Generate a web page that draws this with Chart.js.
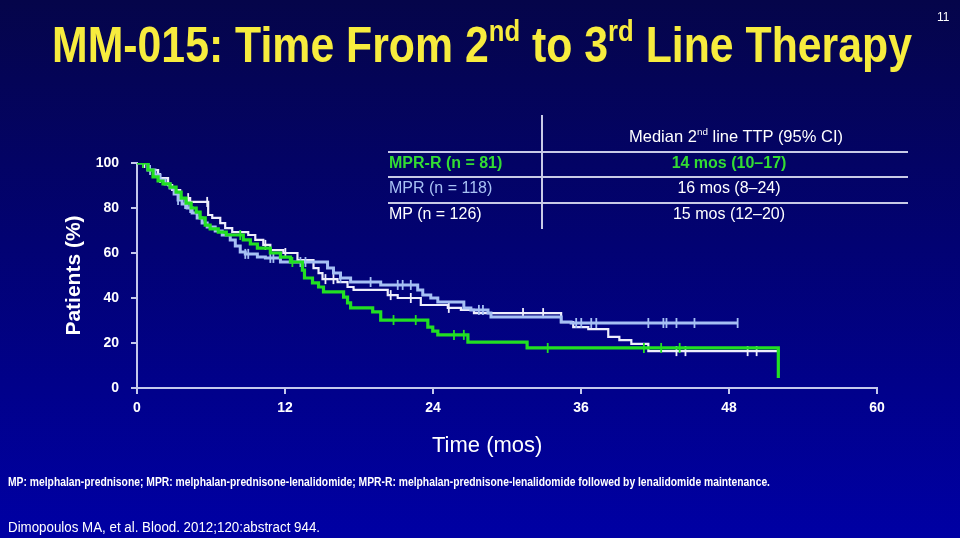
<!DOCTYPE html>
<html>
<head>
<meta charset="utf-8">
<script src="https://cdn.jsdelivr.net/npm/chart.js@4.4.1/dist/chart.umd.min.js"></script>
<style>
  html, body { margin: 0; padding: 0; }
  body {
    width: 960px; height: 538px; overflow: hidden; position: relative;
    background: linear-gradient(180deg, #05054a 0%, #020272 45%, #0000a4 100%);
    font-family: "Liberation Sans", Arial, sans-serif; color: #fff;
  }
  #chart { position: absolute; left: 0; top: 0; }
  .txt { position: absolute; white-space: nowrap; transform-origin: 0 50%; }
  .col { position: absolute; left: 629px; width: 200px; text-align: center; white-space: nowrap; }
  .line { position: absolute; background: #c8cae6; }
  sup { font-size: 0.6em; vertical-align: 0; position: relative; top: -0.7em; }
</style>
</head>
<body>
<canvas id="chart" width="960" height="538"></canvas>

<div class="txt fit" data-w="860" style="left:52px; top:17px; font-size:50px; font-weight:bold; color:#f7ec3e; line-height:56px;">MM-015: Time From 2<sup>nd</sup> to 3<sup>rd</sup> Line Therapy</div>
<div class="txt" style="left:937px; top:10px; font-size:12px; line-height:14px;">11</div>

<!-- median table -->
<div class="line" style="left:541px; top:115px; width:2px; height:114px;"></div>
<div class="line" style="left:388px; top:151px; width:520px; height:2px;"></div>
<div class="line" style="left:388px; top:176px; width:520px; height:2px;"></div>
<div class="line" style="left:388px; top:202px; width:520px; height:2px;"></div>
<div class="col" style="top:127px; font-size:16.5px; line-height:19px;">Median 2<sup>nd</sup> line TTP (95% CI)</div>
<div class="txt" style="left:389px; top:153px; font-size:16px; font-weight:bold; line-height:19px; color:#33dd33;">MPR-R (n = 81)</div>
<div class="txt" style="left:389px; top:178px; font-size:16px; line-height:19px; color:#a8c2f4;">MPR (n = 118)</div>
<div class="txt" style="left:389px; top:204px; font-size:16px; line-height:19px;">MP (n = 126)</div>
<div class="col" style="top:153px; font-size:16px; font-weight:bold; line-height:19px; color:#33dd33;">14 mos (10–17)</div>
<div class="col" style="top:178px; font-size:16px; line-height:19px;">16 mos (8–24)</div>
<div class="col" style="top:204px; font-size:16px; line-height:19px;">15 mos (12–20)</div>

<div class="txt" style="left:432px; top:432px; font-size:22px; line-height:26px;">Time (mos)</div>
<div class="txt fit" data-w="762" style="left:8px; top:475px; font-size:12.5px; font-weight:bold; line-height:14px;">MP: melphalan-prednisone; MPR: melphalan-prednisone-lenalidomide; MPR-R: melphalan-prednisone-lenalidomide followed by lenalidomide maintenance.</div>
<div class="txt fit" data-w="312" style="left:8px; top:518px; font-size:15.5px; line-height:17px;">Dimopoulos MA, et al. Blood. 2012;120:abstract 944.</div>

<script>
// KM step data: time of each drop (months) and % after the drop
const mprrTimes  = [0, 0.89, 1.30, 1.71, 2.11, 2.68, 3.17, 3.58, 3.98, 4.39, 4.80, 5.12, 5.53, 5.93, 6.59, 7.24, 8.62, 9.19, 9.76, 10.81, 11.63, 12.44, 13.41, 13.58, 14.23, 14.72, 15.12, 16.75, 17.07, 17.32, 19.11, 19.76, 23.58, 23.98, 24.39, 26.83, 31.63, 52.0, 52.0];
const mprrValues = [100, 96.9, 93.8, 92.0, 90.7, 89.3, 87.1, 84.4, 82.2, 80.0, 78.2, 75.6, 72.4, 70.7, 69.3, 68.0, 65.8, 64.0, 62.2, 60.0, 58.2, 56.0, 52.4, 48.9, 46.7, 44.9, 42.7, 40.4, 37.8, 35.6, 33.8, 30.2, 27.1, 25.3, 23.6, 20.4, 17.8, 17.8, 4.4];
const mprrCensor = [0.49, 8.37, 12.6, 20.8, 22.6, 25.7, 26.5, 33.3, 41.1, 42.5, 44.0];

const mprTimes  = [0, 0.89, 1.46, 1.87, 2.28, 2.68, 3.01, 3.33, 3.66, 4.07, 4.47, 4.88, 5.28, 5.69, 6.34, 6.91, 7.56, 7.97, 8.37, 8.78, 9.76, 10.41, 11.63, 15.45, 15.93, 16.50, 17.32, 19.76, 22.76, 23.17, 23.82, 24.39, 26.50, 27.07, 28.46, 28.70, 34.39, 35.20, 48.70];
const mprValues = [100, 96.9, 94.7, 92.4, 90.7, 88.9, 86.2, 83.6, 81.8, 80.0, 77.8, 75.6, 73.3, 71.6, 69.8, 68.0, 65.8, 63.1, 60.4, 59.6, 58.2, 57.8, 56.0, 53.3, 51.1, 48.9, 47.1, 45.8, 43.6, 41.3, 40.0, 38.2, 35.6, 34.7, 33.3, 31.6, 29.3, 28.9, 28.9];
const mprCensor = [0.49, 1.06, 3.33, 3.90, 4.31, 8.78, 9.02, 10.81, 11.06, 13.25, 13.66, 16.50, 18.94, 21.14, 21.54, 22.20, 27.72, 28.05, 35.61, 36.02, 36.83, 37.24, 41.46, 42.68, 42.93, 43.74, 45.20, 48.70];

const mpTimes  = [0, 0.89, 1.71, 2.52, 2.85, 3.50, 4.31, 5.77, 6.10, 6.75, 7.15, 7.72, 9.02, 9.59, 10.24, 10.81, 11.87, 13.01, 14.31, 14.72, 15.04, 16.26, 17.07, 17.56, 20.33, 21.14, 23.01, 25.20, 26.26, 27.32, 34.39, 35.37, 36.59, 38.21, 39.11, 40.08, 41.46, 52.1];
const mpValues = [100, 96.9, 93.3, 90.2, 88.0, 84.4, 82.7, 76.9, 75.6, 73.3, 71.1, 69.3, 68.0, 65.8, 63.6, 61.3, 60.0, 56.9, 53.3, 51.1, 48.4, 47.1, 44.9, 43.6, 41.3, 40.0, 36.9, 35.6, 34.7, 33.3, 29.3, 27.1, 26.2, 22.7, 21.3, 19.6, 16.4, 16.4];
const mpCensor = [0.6, 1.87, 4.15, 5.69, 10.41, 12.03, 15.28, 15.93, 20.57, 22.20, 25.28, 31.30, 32.93, 43.74, 44.47, 49.51, 50.24];

const xTicks = [0, 12, 24, 36, 48, 60];
const yTicks = [0, 20, 40, 60, 80, 100];

const GREEN = "#22e022";
const BLUE = "#a6c0f4";
const WHITE = "#eeeefc";
const AXIS = "#c4c8ec";
const FONT = "'Liberation Sans', Arial, sans-serif";

function stepPoints(times, values) {
  return times.map((t, i) => ({ x: t, y: values[i] }));
}
// value of the KM curve at time t (last drop at or before t)
function valueAt(times, values, t) {
  let v = values[0];
  for (let i = 0; i < times.length; i++) {
    if (times[i] <= t) v = values[i];
  }
  return v;
}
function censorPoints(censor, times, values) {
  return censor.map(t => ({ x: t, y: valueAt(times, values, t) }));
}

function curve(label, times, values, color, width) {
  return {
    label, data: stepPoints(times, values), stepped: true,
    borderColor: color, borderWidth: width, pointRadius: 0, fill: false
  };
}
function ticks(label, censor, times, values, color) {
  return {
    label, data: censorPoints(censor, times, values), showLine: false,
    pointStyle: "line", pointRotation: 90, pointRadius: 5,
    borderColor: color, borderWidth: 1.8, backgroundColor: color
  };
}

// fixes the axis box sizes so the plot area lands where the slide has it
const fixWidth = w => scale => { scale.width = w; };
const fixHeight = h => scale => { scale.height = h; };

new Chart(document.getElementById("chart"), {
  type: "line",
  data: {
    datasets: [
      ticks("MPR-R censored", mprrCensor, mprrTimes, mprrValues, GREEN),
      curve("MPR-R", mprrTimes, mprrValues, GREEN, 3.2),
      ticks("MPR censored", mprCensor, mprTimes, mprValues, BLUE),
      curve("MPR", mprTimes, mprValues, BLUE, 3),
      ticks("MP censored", mpCensor, mpTimes, mpValues, WHITE),
      curve("MP", mpTimes, mpValues, WHITE, 2.2)
    ]
  },
  options: {
    responsive: false,
    animation: false,
    layout: { padding: { left: 52, top: 163, right: 83, bottom: 110 } },
    plugins: { legend: { display: false }, tooltip: { enabled: false } },
    scales: {
      x: {
        type: "linear", min: 0, max: 60,
        afterFit: fixHeight(40),
        afterBuildTicks: s => { s.ticks = xTicks.map(v => ({ value: v })); },
        ticks: { color: "#fff", font: { family: FONT, size: 14, weight: "bold" }, padding: 6 },
        grid: { drawOnChartArea: false, color: AXIS, lineWidth: 2, tickLength: 6 },
        border: { color: AXIS, width: 2 }
      },
      y: {
        min: 0, max: 100,
        afterFit: fixWidth(85),
        afterBuildTicks: s => { s.ticks = yTicks.map(v => ({ value: v })); },
        ticks: { color: "#fff", font: { family: FONT, size: 14, weight: "bold" }, padding: 12 },
        grid: { drawOnChartArea: false, color: AXIS, lineWidth: 2, tickLength: 6 },
        border: { color: AXIS, width: 2 },
        title: {
          display: true, text: "Patients (%)", color: "#fff",
          font: { family: FONT, size: 21, weight: "bold" }, padding: { top: 10, bottom: 0 }
        }
      }
    }
  }
});

// squeeze the narrow-font texts to the width they take on the slide
document.querySelectorAll(".fit").forEach(el => {
  const w = el.getBoundingClientRect().width;
  el.style.transform = "scaleX(" + (Number(el.dataset.w) / w) + ")";
});
</script>
</body>
</html>
